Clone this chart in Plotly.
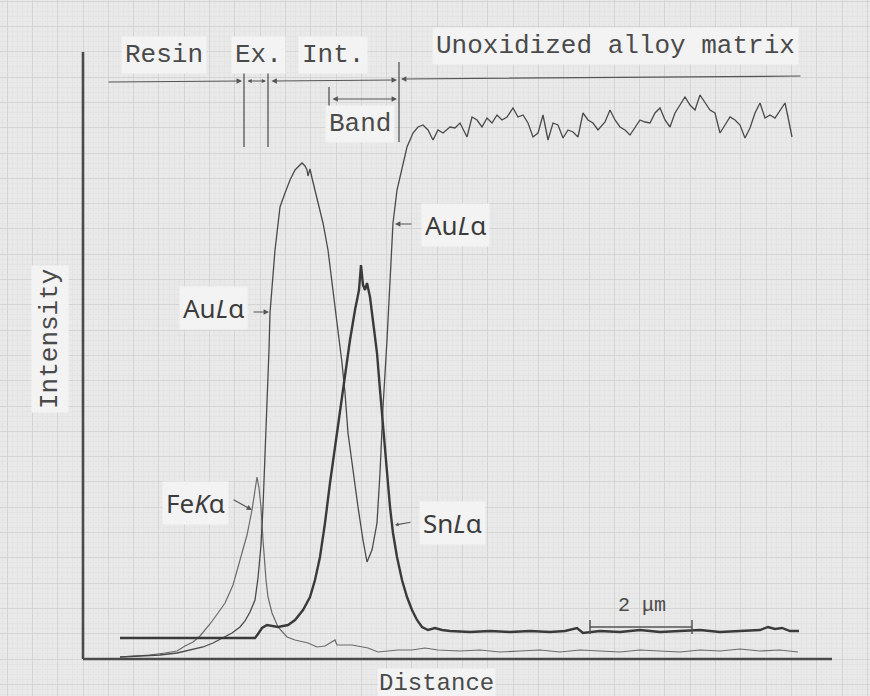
import plotly.graph_objects as go

# ---- line-scan data (distance in scan steps, intensity in counts) ----
au_x = [37, 57, 77, 94, 107, 120, 130, 140, 149, 157, 162, 167, 172, 175, 178, 180, 182, 184, 186, 187,
        189, 190, 192, 194, 197, 202, 207, 212, 216, 219, 222, 224, 225, 227, 229, 231, 235, 240, 245, 249,
        254, 259, 262, 265, 270, 275, 280, 284, 289, 294, 297, 300, 304, 307, 310, 314, 319, 324,
        330, 335, 340, 345, 350, 355, 360, 367, 372, 377, 384, 389, 394, 399, 404, 409, 414, 419, 424, 430,
        435, 440, 445, 450, 455, 460, 465, 470, 475, 480, 485, 490, 495, 500, 505, 510, 515, 522, 527, 532,
        537, 542, 547, 552, 557, 562, 567, 572, 577, 582, 587, 592, 597, 602, 607, 612, 617, 622, 627, 632,
        637, 642, 647, 652, 657, 662, 667, 672, 677, 682, 687, 692, 697, 702, 705, 709]
au_y = [2, 3, 4, 6, 9, 12, 16, 21, 26, 32, 38, 47, 59, 81, 114, 152, 199, 252, 309, 346,
        374, 386, 409, 426, 452, 466, 479, 489, 493, 496, 493, 489, 483, 490, 481, 473, 456, 436, 409, 379,
        336, 296, 266, 226, 186, 152, 119, 97, 109, 136, 186, 252, 319, 379, 436, 469, 492, 512,
        526, 532, 534, 529, 519, 529, 526, 532, 531, 536, 522, 542, 539, 532, 541, 536, 544, 539, 542, 551,
        542, 544, 536, 522, 526, 544, 519, 536, 534, 521, 529, 527, 522, 546, 539, 536, 529, 537, 549, 539,
        532, 529, 524, 531, 539, 537, 536, 546, 551, 539, 532, 546, 554, 562, 554, 549, 564, 557, 549, 546,
        526, 534, 542, 539, 534, 521, 531, 546, 556, 541, 544, 541, 549, 556, 542, 522]

sn_x = [37, 77, 117, 157, 172, 175, 179, 184, 189, 195, 200, 205, 212, 220, 227, 232, 237, 242, 247, 252,
        257, 262, 267, 272, 276, 278, 280, 282, 284, 287, 290, 294, 297, 300, 304, 307, 310, 314, 319, 324,
        329, 334, 339, 345, 352, 359, 367, 387, 407, 427, 447, 467, 482, 494, 500, 517, 537, 557, 577, 597,
        617, 637, 657, 677, 685, 692, 699, 707, 716]
sn_y = [21, 21, 21, 21, 21, 25, 31, 34, 33, 32, 33, 34, 39, 49, 62, 79, 102, 136, 176, 212,
        252, 286, 319, 349, 369, 394, 374, 369, 376, 362, 339, 306, 269, 232, 189, 152, 126, 102, 79, 62,
        49, 39, 32, 29, 31, 29, 28, 27, 28, 27, 28, 27, 28, 31, 26, 28, 27, 29, 27, 28,
        29, 27, 28, 29, 32, 30, 31, 28, 28]

fe_x = [37, 52, 67, 82, 94, 102, 110, 117, 127, 135, 142, 150, 157, 164, 169, 172, 174, 176, 178, 180,
        181, 183, 185, 189, 195, 204, 212, 225, 234, 242, 252, 254, 269, 285, 295, 315, 329, 342, 355, 377,
        397, 417, 437, 457, 477, 497, 517, 537, 557, 577, 597, 617, 637, 657, 677, 697, 715]
fe_y = [2, 3, 4, 6, 8, 13, 17, 23, 35, 46, 56, 74, 99, 124, 149, 169, 182, 171, 152, 119,
        102, 79, 62, 46, 32, 22, 19, 16, 12, 13, 19, 14, 14, 11, 7, 9, 9, 11, 9, 8,
        9, 7, 8, 9, 7, 9, 8, 7, 9, 8, 7, 9, 8, 10, 8, 9, 7]

GRID = 25.3
PAPER = "#e9e9e9"
MONO = "Liberation Mono, Courier New, monospace"
SANS = "Noto Sans, DejaVu Sans, sans-serif"

fig = go.Figure()
fig.add_trace(go.Scatter(x=fe_x, y=fe_y, mode="lines", line=dict(color="#6a6a6a", width=1.2), name="FeKα"))
fig.add_trace(go.Scatter(x=au_x, y=au_y, mode="lines", line=dict(color="#4a4a4a", width=1.3), name="AuLα"))
fig.add_trace(go.Scatter(x=sn_x, y=sn_y, mode="lines", line=dict(color="#3a3a3a", width=2.4), name="SnLα"))

shapes = []
def line(x0, y0, x1, y1, w=1.3, c="#555555"):
    shapes.append(dict(type="line", xref="x", yref="y", x0=x0, y0=y0, x1=x1, y1=y1,
                       line=dict(color=c, width=w)))

# axes
line(0, 0, 749, 0, 2.6, "#4a4a4a")
line(0, 0, 0, 607, 2.6, "#4a4a4a")
# region boundary ticks
line(161, 512, 161, 596)
line(185, 512, 185, 596)
line(316, 517, 316, 597)
line(246, 549, 246, 572)
# scale bar
line(507, 32, 609, 32, 1.5)
line(507, 25, 507, 39, 1.5)
line(609, 25, 609, 39, 1.5)

annotations = []
def arrow(hx, hy, tx, ty, side="end", size=0.9):
    annotations.append(dict(x=hx, y=hy, ax=tx, ay=ty, xref="x", yref="y", axref="x", ayref="y",
                            text="", showarrow=True, arrowhead=2, arrowsize=size, arrowwidth=1.2,
                            arrowcolor="#555555", arrowside=side))

arrow(159, 578, 24, 577)            # Resin
arrow(183, 578, 163, 578, "end+start", 0.7)  # Ex.
arrow(314, 579, 187, 578, "end+start")       # Int.
arrow(318, 580, 719, 583)           # unoxidized matrix
arrow(314, 560, 248, 560, "end+start")       # Band
arrow(186, 347, 169, 347)           # Au left
arrow(312, 435, 330, 435)           # Au right
arrow(169, 149, 149, 160)           # Fe
arrow(312, 134, 329, 137, size=0.6) # Sn

def text(x, y, s, font, size, bg="#f3f3f3", angle=0, color="#4a4a4a", pad=3):
    annotations.append(dict(x=x, y=y, xref="x", yref="y", text=s, showarrow=False, textangle=angle,
                            font=dict(family=font, size=size, color=color), bgcolor=bg, borderpad=pad))

text(81, 604, "Resin", MONO, 26)
text(175, 604, "Ex.", MONO, 26)
text(250, 604, "Int.", MONO, 26)
text(532, 613, "Unoxidized alloy matrix", MONO, 26)
text(277, 535, "Band", MONO, 26)
text(-33, 320, "Intensity", MONO, 26, angle=-90)
text(353, -24, "Distance", MONO, 24, pad=1)
text(559, 54, "2 μm", MONO, 20, bg="rgba(0,0,0,0)")
text(130, 351, "Au<i>L</i>α", SANS, 26, color="#3c3c3c")
text(372, 434, "Au<i>L</i>α", SANS, 26, color="#3c3c3c")
text(112, 156, "Fe<i>K</i>α", SANS, 26, color="#3c3c3c")
text(369, 136, "Sn<i>L</i>α", SANS, 26, color="#3c3c3c")

axis_common = dict(showticklabels=False, ticks="", zeroline=False, showline=False,
                   showgrid=True, gridcolor="#d4d4d4", gridwidth=1, tick0=0, dtick=GRID,
                   minor=dict(showgrid=True, dtick=GRID / 5, gridcolor="#e4e4e4", gridwidth=1))

fig.update_layout(
    width=870, height=696,
    margin=dict(l=0, r=0, t=0, b=0),
    paper_bgcolor=PAPER, plot_bgcolor=PAPER,
    showlegend=False,
    xaxis=dict(range=[-83, 787], **axis_common),
    yaxis=dict(range=[-37, 659], **axis_common),
    shapes=shapes, annotations=annotations,
)

fig.write_html("out.html")
